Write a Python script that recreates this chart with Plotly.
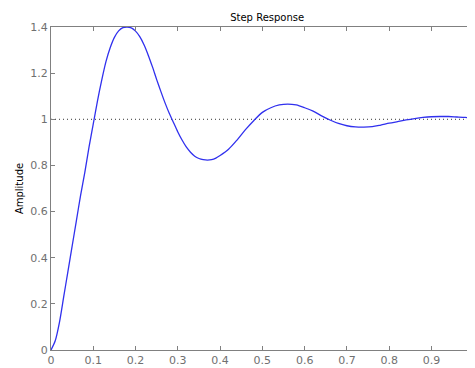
import plotly.graph_objects as go

t = [0, 0.01, 0.02, 0.03, 0.04, 0.05, 0.06, 0.07, 0.08, 0.09, 0.10, 0.11, 0.12, 0.13, 0.14,
     0.15, 0.16, 0.17, 0.18, 0.19, 0.20, 0.21, 0.22, 0.23, 0.24, 0.25, 0.26, 0.27, 0.28, 0.29,
     0.30, 0.31, 0.32, 0.33, 0.34, 0.35, 0.36, 0.37, 0.38, 0.39, 0.40, 0.42, 0.44, 0.46, 0.48,
     0.50, 0.52, 0.54, 0.56, 0.58, 0.60, 0.62, 0.64, 0.66, 0.68, 0.70, 0.72, 0.74, 0.76, 0.78,
     0.80, 0.82, 0.84, 0.86, 0.88, 0.90, 0.92, 0.94, 0.96, 0.98, 1.00]
amplitude = [0, 0.04, 0.12, 0.23, 0.34, 0.45, 0.56, 0.67, 0.77, 0.88, 0.98, 1.08, 1.17, 1.25, 1.31,
             1.355, 1.383, 1.397, 1.40, 1.396, 1.382, 1.358, 1.323, 1.278, 1.227, 1.172, 1.12, 1.07, 1.025, 0.985,
             0.945, 0.91, 0.88, 0.857, 0.84, 0.83, 0.825, 0.823, 0.825, 0.832, 0.843, 0.87, 0.91, 0.955, 0.995,
             1.03, 1.05, 1.062, 1.066, 1.062, 1.05, 1.035, 1.015, 0.997, 0.982, 0.972, 0.967, 0.966, 0.968, 0.975,
             0.983, 0.99, 0.997, 1.003, 1.008, 1.011, 1.012, 1.012, 1.01, 1.008, 1.005]
ref_t = [0, 1.003]
ref_y = [1, 1]
x_ticks = [0, 0.1, 0.2, 0.3, 0.4, 0.5, 0.6, 0.7, 0.8, 0.9, 1]
x_labels = ["0", "0.1", "0.2", "0.3", "0.4", "0.5", "0.6", "0.7", "0.8", "0.9", "1"]
y_ticks = [0, 0.2, 0.4, 0.6, 0.8, 1, 1.2, 1.4]
y_labels = ["0", "0.2", "0.4", "0.6", "0.8", "1", "1.2", "1.4"]

fig = go.Figure()
fig.add_trace(go.Scatter(x=ref_t, y=ref_y, mode="lines",
                         line=dict(color="#333333", width=1, dash="1px,3px"), hoverinfo="skip"))
fig.add_trace(go.Scatter(x=t, y=amplitude, mode="lines",
                         line=dict(color="#3030ee", width=1.3, shape="spline", smoothing=0.8)))

axis_common = dict(showline=True, linecolor="#808080", linewidth=1, mirror="ticks",
                   ticks="inside", ticklen=4, tickcolor="#808080", showgrid=False,
                   zeroline=False,
                   tickfont=dict(family="DejaVu Sans", size=11, color="#707070"))
fig.update_layout(
    width=467, height=360,
    margin=dict(l=43, r=0, t=19, b=18),
    paper_bgcolor="white", plot_bgcolor="white",
    showlegend=False,
    title=dict(text="Step Response", x=0.555, xanchor="center", y=0.975, yanchor="middle",
               font=dict(family="DejaVu Sans", size=10, color="black")),
    xaxis=dict(range=[0, 1.003], tickvals=x_ticks, ticktext=x_labels, **axis_common),
    yaxis=dict(range=[0, 1.4], tickvals=y_ticks, ticktext=y_labels,
               title=dict(text="Amplitude", standoff=4,
                          font=dict(family="DejaVu Sans", size=10, color="black")),
               **axis_common),
)
fig.write_html("out.html")
